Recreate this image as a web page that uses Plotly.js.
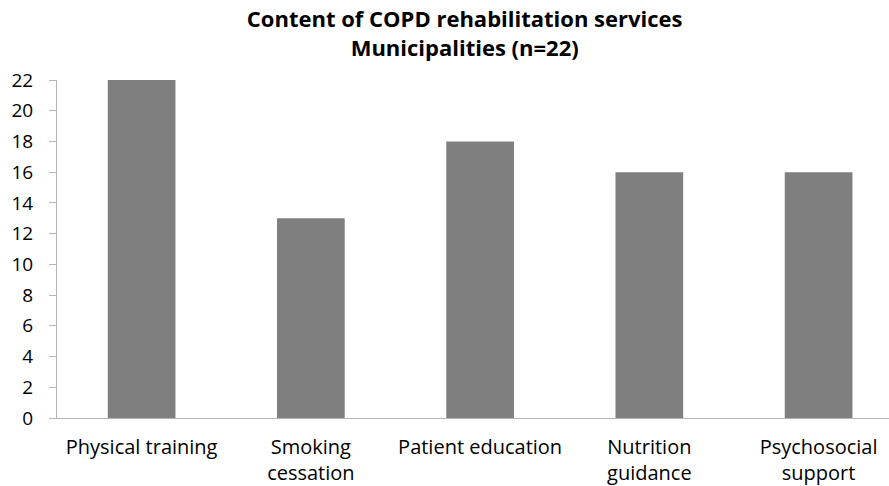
<!DOCTYPE html>
<html>
<head>
<meta charset="utf-8">
<script src="https://cdn.plot.ly/plotly-3.0.1.min.js"></script>
<style>html,body{margin:0;padding:0;background:#fff;}#chart{width:889px;height:486px;}</style>
</head>
<body>
<div id="chart"></div>
<script>
const categories = ["Physical training", "Smoking<br>cessation", "Patient education", "Nutrition<br>guidance", "Psychosocial<br>support"];
const values = [22, 13, 18, 16, 16];
const yTicks = [0, 2, 4, 6, 8, 10, 12, 14, 16, 18, 20, 22];
const titleText = "Content of COPD rehabilitation services<br>Municipalities (n=22)";

const FONT = "'Open Sans', Lato, sans-serif";
const data = [{
  type: "bar",
  x: categories,
  y: values,
  marker: {color: "#7f7f7f"},
  hoverinfo: "x+y"
}];
const layout = {
  width: 889, height: 486,
  margin: {l: 57, r: 0, t: 80, b: 68, pad: 0},
  paper_bgcolor: "#ffffff", plot_bgcolor: "#ffffff",
  bargap: 0.6,
  showlegend: false,
  font: {family: FONT, size: 19, color: "#000000"},
  title: {
    text: titleText,
    font: {family: FONT, size: 22, color: "#000000", weight: "bold"},
    xref: "paper", x: 0.49, xanchor: "center",
    yref: "paper", y: 1, yanchor: "bottom",
    pad: {b: 53}
  },
  xaxis: {
    type: "category",
    range: [-0.5, 4.416],
    showgrid: false, zeroline: false,
    showline: true, linecolor: "#b3b3b3", linewidth: 1,
    ticks: "", ticklabelstandoff: 11,
    tickfont: {family: FONT, size: 20, color: "#000000"},
    fixedrange: true
  },
  yaxis: {
    range: [0, 22],
    tickvals: yTicks,
    ticktext: yTicks.map(String),
    showgrid: false, zeroline: false,
    showline: true, linecolor: "#b3b3b3", linewidth: 1,
    ticks: "outside", ticklen: 7, tickcolor: "#b3b3b3", tickwidth: 1,
    ticklabelstandoff: 12,
    tickfont: {family: FONT, size: 19, color: "#000000"},
    fixedrange: true
  }
};
Plotly.newPlot("chart", data, layout, {displayModeBar: false, staticPlot: true});
</script>
</body>
</html>
